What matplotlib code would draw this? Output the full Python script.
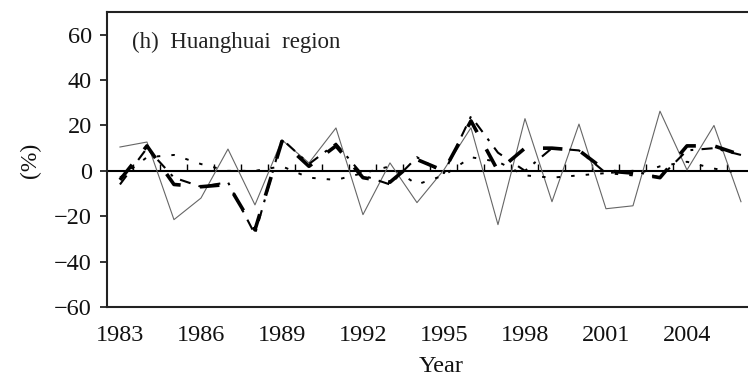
import numpy as np
import matplotlib
matplotlib.use("Agg")
import matplotlib.pyplot as plt

plt.rcParams['font.family'] = ['Liberation Serif', 'DejaVu Serif']
plt.rcParams['lines.scale_dashes'] = False

years = list(range(1983, 2007))
observed = [10.5, 12.7, -21.5, -12, 9.6, -15, 13.6, 3.5, 18.9, -19.3, 3.5, -14,
            0.5, 19, -23.7, 23, -13.6, 20.6, -16.7, -15.4, 26.3, 0.4, 20, -13.6]
model_a = [-4, 11, -6, -7, -6, -26, 13, 2, 11, -3, -5, 5,
           0, 22, 0, 10, 10, 9, 0, -1, -3, 11, 11, 7]
model_b = [-6, 10, -3, -7, -5, -28, 14, 3, 12, -2, -6, 6,
           -1, 24, 8, 0, 10, 9, -1, 0, -3, 9, 10, 7]
model_c = [-3, 6, 7, 3, 0, 0, 2, -3, -4, -1, 2, -6,
           -2, 6, 4, -2, -3, -2, -1, -2, 2, 4, 1, -1]
yticks = [-60, -40, -20, 0, 20, 40, 60]
xticks = [1983, 1986, 1989, 1992, 1995, 1998, 2001, 2004]

W, H = 748, 378
fig = plt.figure(figsize=(W / 100, H / 100), dpi=100)
ax = fig.add_axes([107 / W, (H - 307) / H, (775 - 107) / W, (307 - 12) / H])

yr = np.array(years)
ax.plot(yr, observed, color='#666666', lw=0.8, zorder=3)
ax.plot(yr, model_a, color='black', lw=2.6, dashes=(14, 14), zorder=4)
ax.plot(yr, model_b, color='black', lw=1.5, dashes=(8, 6, 2, 6), zorder=4)
ax.plot(yr, model_c, color='black', lw=1.4, dashes=(2.5, 8), zorder=4)

ax.axhline(0, color='black', lw=1.5, zorder=2)
ax.vlines(yr[:-1] + 0.5, 0, 3, color='black', lw=1.0, zorder=2)

ax.set_xlim(1982.52, 2007.26)
ax.set_ylim(-60, 70)
ax.set_yticks(yticks)
ax.set_yticklabels([str(v).replace('-', '\u2212') for v in yticks])
ax.set_xticks(xticks)
ax.set_xticklabels([str(v) for v in xticks])
ax.tick_params(axis='y', direction='out', length=5, width=1.2, pad=6,
               labelsize=17.5, colors='#111111')
ax.tick_params(axis='x', length=0, pad=13, labelsize=17.5, colors='#111111')
ax.spines['right'].set_visible(False)
for s in ['left', 'bottom', 'top']:
    ax.spines[s].set_linewidth(1.5)
    ax.spines[s].set_color('#222222')

ax.set_xlabel('Year', fontsize=17.5, labelpad=7, color='#111111')
fig.text(30 / W, 1 - 160 / H, '(%)', rotation=90, fontsize=17,
         ha='center', va='center', color='#111111')
ax.text(0.037, 0.898, '(h)  Huanghuai  region', transform=ax.transAxes,
        fontsize=16.5, ha='left', va='center', color='#222222')

fig.savefig('out.png', dpi=100)
